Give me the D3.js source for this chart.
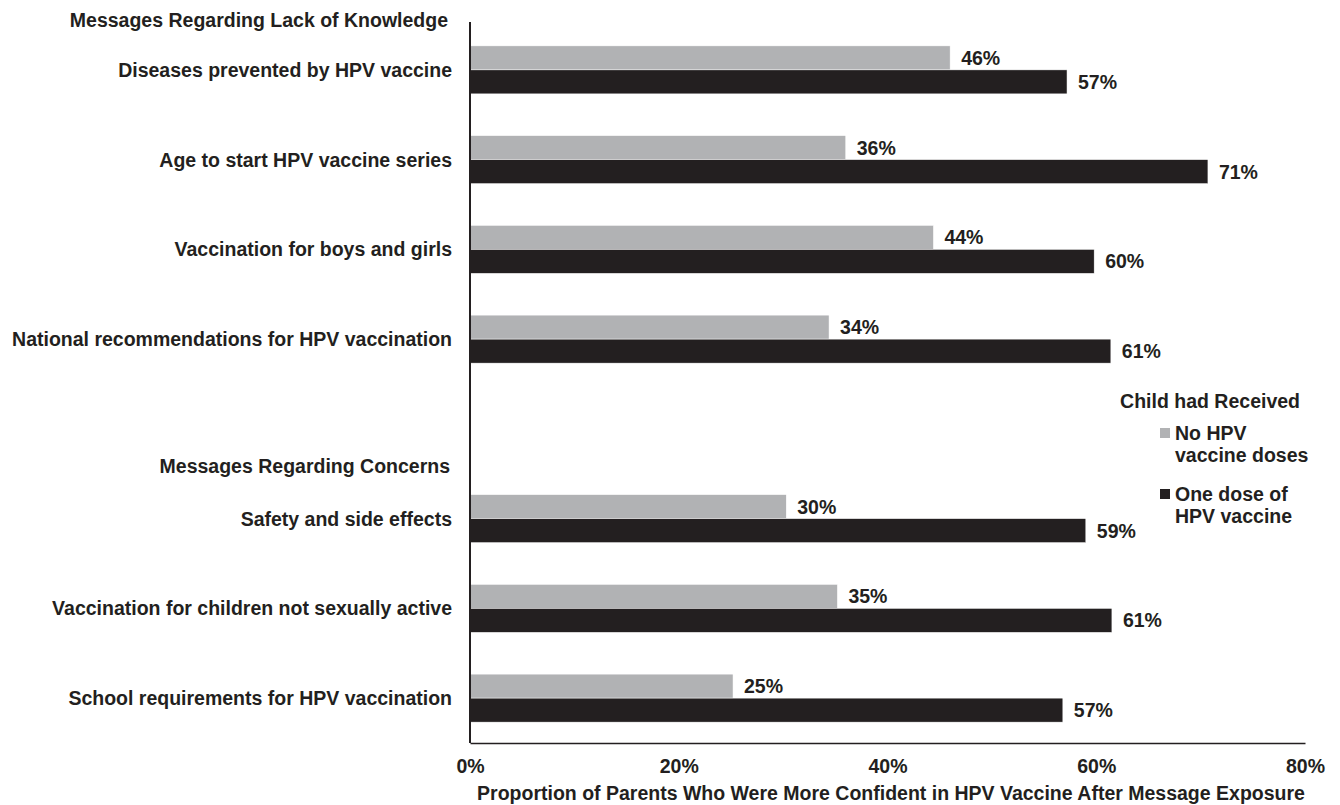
<!DOCTYPE html>
<html>
<head>
<meta charset="utf-8">
<script src="https://d3js.org/d3.v7.min.js"></script>
<style>
  body { margin: 0; background: #fff; }
  svg text { font-family: "Liberation Sans", Arial, sans-serif; font-weight: bold; fill: #231f20; }
</style>
</head>
<body>
<div id="chart"></div>
<script>
const width = 1340;
const height = 805;
const margin = {top: 25, right: 35, bottom: 62, left: 470};
const fs = 19.5;

// rows, top to bottom ("" is the empty slot that holds the legend)
const categories = [
  "Diseases prevented by HPV vaccine",
  "Age to start HPV vaccine series",
  "Vaccination for boys and girls",
  "National recommendations for HPV vaccination",
  "",
  "Safety and side effects",
  "Vaccination for children not sexually active",
  "School requirements for HPV vaccination"
];
// bar lengths as measured, printed labels as shown in the figure
const noDoses = [46.0, 36.0, 44.4, 34.4, null, 30.3, 35.2, 25.2];
const oneDose = [57.2, 70.7, 59.8, 61.4, null, 59.0, 61.5, 56.8];
const noDosesLabels = ["46%", "36%", "44%", "34%", "", "30%", "35%", "25%"];
const oneDoseLabels = ["57%", "71%", "60%", "61%", "", "59%", "61%", "57%"];
const colors = ["#b1b2b4", "#231f20"];
const xTicks = [0, 20, 40, 60, 80];
const groupHeaders = ["Messages Regarding Lack of Knowledge", "Messages Regarding Concerns"];

const svg = d3.select('#chart')
  .append('svg')
  .attr('width', width)
  .attr('height', height);

const x = d3.scaleLinear()
  .domain([0, 80])
  .range([margin.left, width - margin.right]);

const y = d3.scaleBand()
  .domain(categories.map((d, i) => i))
  .range([margin.top, height - margin.bottom]);

const barH = 24;

// bars
const rows = categories.map((c, i) => ({
    c, i,
    vals: [noDoses[i], oneDose[i]],
    labels: [noDosesLabels[i], oneDoseLabels[i]]
  }))
  .filter(d => d.c !== "");

rows.forEach(r => {
  const yc = y(r.i) + y.bandwidth() / 2;
  r.vals.forEach((v, k) => {
    const y0 = k === 0 ? yc - barH : yc;
    svg.append("rect")
      .attr("x", x(0))
      .attr("y", y0)
      .attr("width", x(v) - x(0))
      .attr("height", barH)
      .attr("fill", colors[k])
      .attr("stroke", "#fff")
      .attr("stroke-width", 0.5);
    svg.append("text")
      .attr("x", x(v) + 11)
      .attr("y", y0 + barH - 5)
      .attr("font-size", fs)
      .text(r.labels[k]);
  });
  svg.append("text")
    .attr("x", margin.left - 18)
    .attr("y", yc + 7)
    .attr("text-anchor", "end")
    .attr("font-size", fs)
    .text(r.c);
});

// group headers
svg.append("text")
  .attr("x", 448).attr("y", 27)
  .attr("text-anchor", "end")
  .attr("font-size", fs)
  .text(groupHeaders[0]);
svg.append("text")
  .attr("x", 450).attr("y", 473)
  .attr("text-anchor", "end")
  .attr("font-size", fs)
  .text(groupHeaders[1]);

// axes
svg.append("line")
  .attr("x1", x(0)).attr("x2", x(0))
  .attr("y1", 22).attr("y2", height - margin.bottom)
  .attr("stroke", "#231f20").attr("stroke-width", 2);

const xAxis = svg.append("g")
  .attr("transform", "translate(0," + (height - margin.bottom) + ")")
  .call(d3.axisBottom(x).tickValues(xTicks).tickFormat(d => d + "%").tickSize(0).tickPadding(16));
xAxis.select(".domain").attr("stroke", "#231f20").attr("stroke-width", 1.5);
xAxis.selectAll("text")
  .attr("font-size", fs)
  .attr("font-family", "Liberation Sans, Arial, sans-serif")
  .attr("font-weight", "bold")
  .attr("fill", "#231f20");

svg.append("text")
  .attr("x", 891).attr("y", 800)
  .attr("text-anchor", "middle")
  .attr("font-size", fs)
  .text("Proportion of Parents Who Were More Confident in HPV Vaccine After Message Exposure");

// legend
const legend = svg.append("g");
legend.append("text")
  .attr("x", 1300).attr("y", 408)
  .attr("text-anchor", "end")
  .attr("font-size", fs)
  .text("Child had Received");

const legendLines = [["No HPV", "vaccine doses"], ["One dose of", "HPV vaccine"]];
legendLines.forEach((lines, k) => {
  const ly = 440 + k * 61;
  legend.append("rect")
    .attr("x", 1160).attr("y", ly - 12)
    .attr("width", 10).attr("height", 10)
    .attr("fill", colors[k]);
  lines.forEach((t, j) => {
    legend.append("text")
      .attr("x", 1175).attr("y", ly + j * 22)
      .attr("font-size", fs)
      .text(t);
  });
});
</script>
</body>
</html>
